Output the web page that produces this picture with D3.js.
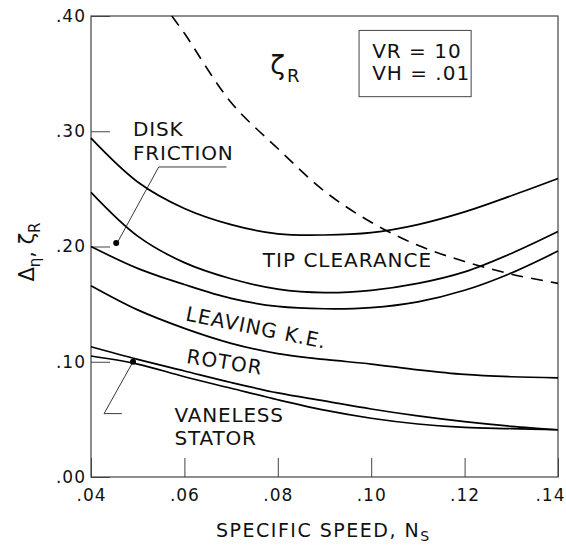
<!DOCTYPE html>
<html>
<head>
<meta charset="utf-8">
<script src="https://cdn.jsdelivr.net/npm/d3@7"></script>
<style>
  body { margin: 0; background: #fff; }
  text { font-family: "DejaVu Sans", sans-serif; fill: #111; }
</style>
</head>
<body>
<div id="chart"></div>
<script>
// Data
const specificSpeed = [0.04, 0.05, 0.06, 0.07, 0.08, 0.09, 0.10, 0.11, 0.12, 0.13, 0.14]
const tipClearanceTop = [0.294, 0.256, 0.233, 0.219, 0.211, 0.210, 0.212, 0.219, 0.230, 0.244, 0.259]
const diskFrictionTop = [0.247, 0.209, 0.186, 0.172, 0.163, 0.160, 0.162, 0.168, 0.178, 0.194, 0.213]
const leavingKETop = [0.200, 0.181, 0.167, 0.155, 0.148, 0.146, 0.147, 0.152, 0.162, 0.177, 0.196]
const rotorTop = [0.166, 0.145, 0.129, 0.116, 0.107, 0.102, 0.098, 0.093, 0.089, 0.087, 0.086]
const statorTop = [0.113, 0.102, 0.092, 0.082, 0.073, 0.066, 0.059, 0.053, 0.048, 0.044, 0.041]
const baseLoss = [0.105, 0.098, 0.087, 0.077, 0.067, 0.058, 0.051, 0.046, 0.043, 0.042, 0.041]

const zetaSpeed = [0.0573, 0.06, 0.07, 0.08, 0.09, 0.10, 0.11, 0.12, 0.13, 0.14]
const zetaR = [0.400, 0.385, 0.325, 0.285, 0.248, 0.221, 0.201, 0.187, 0.176, 0.168]

const xTicks = [0.04, 0.06, 0.08, 0.10, 0.12, 0.14]
const yTicks = [0.00, 0.10, 0.20, 0.30, 0.40]

// Dimensions
let dimensions = {
  width: 566,
  height: 546,
  margin: { top: 16, bottom: 69, left: 91, right: 8 }
}
dimensions.ctrWidth = dimensions.width - dimensions.margin.left - dimensions.margin.right
dimensions.ctrHeight = dimensions.height - dimensions.margin.top - dimensions.margin.bottom

const svg = d3.select('#chart')
  .append('svg')
  .attr('width', dimensions.width)
  .attr('height', dimensions.height)

const ctr = svg.append('g')
  .attr('transform', `translate(${dimensions.margin.left}, ${dimensions.margin.top})`)

// Scales
const xScale = d3.scaleLinear()
  .domain([0.04, 0.14])
  .range([0, dimensions.ctrWidth])

const yScale = d3.scaleLinear()
  .domain([0, 0.40])
  .range([dimensions.ctrHeight, 0])

const fmt = d => d3.format('.2f')(d).replace(/^0/, '')

// Axes (ticks point inward)
const xAxis = d3.axisBottom(xScale)
  .tickValues(xTicks)
  .tickFormat(fmt)
  .tickSizeInner(-19)
  .tickSizeOuter(0)
  .tickPadding(12)

const yAxis = d3.axisLeft(yScale)
  .tickValues(yTicks)
  .tickFormat(fmt)
  .tickSizeInner(-19)
  .tickSizeOuter(0)
  .tickPadding(5)

const xg = ctr.append('g')
  .attr('transform', `translate(0, ${dimensions.ctrHeight})`)
  .call(xAxis)
const yg = ctr.append('g').call(yAxis)

;[xg, yg].forEach(g => {
  g.select('.domain').remove()
  g.selectAll('line').attr('stroke', '#444').attr('stroke-width', 1)
  g.selectAll('text')
    .attr('font-size', 17)
    .attr('font-family', '"DejaVu Sans", sans-serif')
    .attr('letter-spacing', 1)
    .attr('fill', '#111')
})
// last x label kept inside the window
xg.selectAll('.tick text')
  .filter(d => d === 0.14)
  .attr('text-anchor', 'end')
  .attr('dx', 7)

// Frame
ctr.append('rect')
  .attr('width', dimensions.ctrWidth)
  .attr('height', dimensions.ctrHeight)
  .attr('fill', 'none')
  .attr('stroke', '#444')
  .attr('stroke-width', 1.2)

// Lines
const lineGen = d3.line()
  .x((d, i) => xScale(specificSpeed[i]))
  .y(d => yScale(d))
  .curve(d3.curveCatmullRom)

const curves = [tipClearanceTop, diskFrictionTop, leavingKETop, rotorTop, statorTop, baseLoss]

ctr.selectAll('.loss')
  .data(curves)
  .join('path')
  .attr('class', 'loss')
  .attr('d', lineGen)
  .attr('fill', 'none')
  .attr('stroke', '#000')
  .attr('stroke-width', 1.7)

const zetaLine = d3.line()
  .x((d, i) => xScale(zetaSpeed[i]))
  .y(d => yScale(d))
  .curve(d3.curveCatmullRom)

ctr.append('path')
  .attr('d', zetaLine(zetaR))
  .attr('fill', 'none')
  .attr('stroke', '#000')
  .attr('stroke-width', 1.6)
  .attr('stroke-dasharray', '12 8')

// Labels
const label = (x, y, str, opts = {}) => ctr.append('text')
  .attr('x', xScale(x))
  .attr('y', yScale(y))
  .attr('font-size', opts.size || 20)
  .attr('letter-spacing', opts.ls == null ? 1 : opts.ls)
  .attr('transform', opts.rot ? `rotate(${opts.rot}, ${xScale(x)}, ${yScale(y)})` : null)
  .text(str)

label(0.0490, 0.296, 'DISK', { ls: 0.8 })
label(0.0490, 0.275, 'FRICTION', { ls: 0.8 })
label(0.0768, 0.182, 'TIP CLEARANCE')
label(0.0601, 0.136, 'LEAVING K.E.', { rot: 11.5 })
label(0.0603, 0.099, 'ROTOR', { rot: 9 })
label(0.0579, 0.0477, 'VANELESS', { ls: 0.8 })
label(0.0579, 0.0278, 'STATOR', { ls: 0.8 })

// zeta R label
const zt = ctr.append('text')
  .attr('x', xScale(0.0784))
  .attr('y', yScale(0.350))
  .attr('font-size', 27)
zt.append('tspan').text('ζ')
zt.append('tspan').attr('dy', 8).attr('dx', 2).attr('font-size', 18).text('R')

// Leader lines with dots
const leader = (pts, dot) => {
  ctr.append('path')
    .attr('d', d3.line().x(d => xScale(d[0])).y(d => yScale(d[1]))(pts))
    .attr('fill', 'none')
    .attr('stroke', '#222')
    .attr('stroke-width', 0.9)
  ctr.append('circle')
    .attr('cx', xScale(dot[0]))
    .attr('cy', yScale(dot[1]))
    .attr('r', 3)
    .attr('fill', '#000')
}
leader([[0.0690, 0.269], [0.0545, 0.269], [0.0456, 0.203]], [0.0454, 0.203])
leader([[0.0466, 0.055], [0.0428, 0.055], [0.0490, 0.100]], [0.0490, 0.100])

// Parameter box
const box = ctr.append('g')
box.append('rect')
  .attr('x', xScale(0.0974))
  .attr('y', yScale(0.3875))
  .attr('width', xScale(0.1214) - xScale(0.0974))
  .attr('height', yScale(0.330) - yScale(0.3875))
  .attr('fill', 'none')
  .attr('stroke', '#444')
  .attr('stroke-width', 1)
box.append('text').attr('x', xScale(0.1002)).attr('y', yScale(0.3635)).attr('font-size', 20).attr('letter-spacing', 1).text('VR = 10')
box.append('text').attr('x', xScale(0.1002)).attr('y', yScale(0.3445)).attr('font-size', 20).attr('letter-spacing', 1).text('VH = .01')

// Axis titles
const xt = svg.append('text')
  .attr('x', 216)
  .attr('y', 537)
  .attr('font-size', 19)
  .attr('letter-spacing', 1.5)
xt.append('tspan').text('SPECIFIC  SPEED, N')
xt.append('tspan').attr('dy', 4).attr('font-size', 14).text('S')

const yt = svg.append('text')
  .attr('transform', 'translate(34, 252) rotate(-90)')
  .attr('text-anchor', 'middle')
  .attr('font-size', 21)
yt.append('tspan').text('Δ')
yt.append('tspan').attr('dy', 6).attr('font-size', 15).text('η')
yt.append('tspan').attr('dy', -6).text(', ζ')
yt.append('tspan').attr('dy', 6).attr('font-size', 15).text('R')
</script>
</body>
</html>
